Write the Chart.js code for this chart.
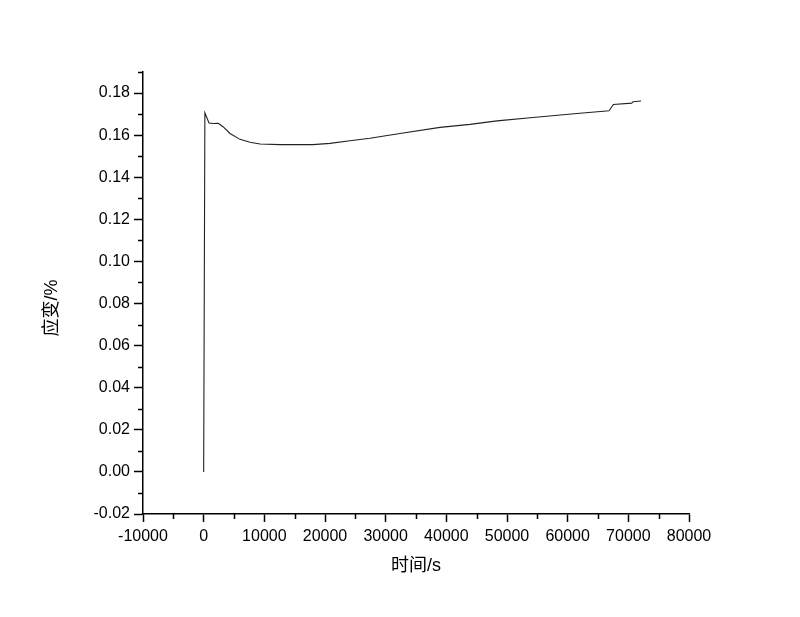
<!DOCTYPE html>
<html>
<head>
<meta charset="utf-8">
<script src="https://cdn.jsdelivr.net/npm/chart.js@4/dist/chart.umd.min.js"></script>
<style>
  html, body { margin: 0; padding: 0; background: #fff; }
  #wrap { width: 800px; height: 617px; }
</style>
</head>
<body>
<div id="wrap"><canvas id="c" width="800" height="617"></canvas></div>
<script>
// 时间 (s) / 应变 (%)
const TIME_S = [0, 200, 880, 1600, 2400, 3200, 4340, 5990, 7640, 9290, 12580, 18020, 20820,
  24120, 27410, 32360, 38960, 43900, 48350, 54290, 61540, 66820, 67530, 70560, 70770, 72090];
const STRAIN = [0.000, 0.1706, 0.1658, 0.1655, 0.1656, 0.1640, 0.1608, 0.1580, 0.1566, 0.1558,
  0.1555, 0.1555, 0.1561, 0.1573, 0.1585, 0.1608, 0.1637, 0.1651, 0.1668, 0.1684, 0.1703,
  0.1716, 0.1746, 0.1752, 0.1759, 0.1762];

const X_TICKS = [-10000, 0, 10000, 20000, 30000, 40000, 50000, 60000, 70000, 80000];
const X_MINOR = [-5000, 5000, 15000, 25000, 35000, 45000, 55000, 65000, 75000];
const Y_TICKS = [-0.02, 0, 0.02, 0.04, 0.06, 0.08, 0.10, 0.12, 0.14, 0.16, 0.18];
const Y_MINOR = [-0.01, 0.01, 0.03, 0.05, 0.07, 0.09, 0.11, 0.13, 0.15, 0.17, 0.19];

const FONT = '"Liberation Sans", Arial, "Noto Sans CJK SC", sans-serif';

// 보조 눈금 (짧은 바깥쪽 눈금)
const minorTicks = {
  id: 'minorTicks',
  afterDraw(chart) {
    const { ctx, scales: { x, y }, chartArea } = chart;
    ctx.save();
    ctx.strokeStyle = '#000';
    ctx.lineWidth = 1.5;
    ctx.beginPath();
    X_MINOR.forEach(v => {
      const px = Math.round(x.getPixelForValue(v)) + 0.5;
      ctx.moveTo(px, chartArea.bottom);
      ctx.lineTo(px, chartArea.bottom + 5);
    });
    Y_MINOR.forEach(v => {
      const py = Math.round(y.getPixelForValue(v)) + 0.5;
      ctx.moveTo(chartArea.left, py);
      ctx.lineTo(chartArea.left - 5, py);
    });
    ctx.stroke();
    ctx.restore();
  }
};

const points = TIME_S.map((t, i) => ({ x: t, y: STRAIN[i] }));

new Chart(document.getElementById('c'), {
  type: 'scatter',
  data: {
    datasets: [{
      data: points,
      showLine: true,
      borderColor: '#222',
      borderWidth: 1.1,
      pointRadius: 0,
      tension: 0,
    }]
  },
  options: {
    responsive: false,
    animation: false,
    layout: { padding: { left: 0, right: 111, top: 72, bottom: 0 } },
    plugins: { legend: { display: false }, tooltip: { enabled: false } },
    scales: {
      x: {
        type: 'linear',
        min: -10000, max: 80000,
        afterBuildTicks: s => { s.ticks = X_TICKS.map(v => ({ value: v })); },
        afterFit: s => { s.height = 103; },
        border: { display: true, color: '#000', width: 1.5 },
        grid: { drawOnChartArea: false, drawTicks: true, tickLength: 8, color: '#000', tickWidth: 1.5 },
        ticks: { color: '#000', font: { family: FONT, size: 16 }, padding: 5, maxRotation: 0,
          callback: v => String(v) },
        title: { display: true, text: '时间/s', color: '#000',
          font: { family: FONT, size: 18 }, padding: { top: 0, bottom: 40 } },
      },
      y: {
        type: 'linear',
        min: -0.02, max: 0.19,
        afterBuildTicks: s => { s.ticks = Y_TICKS.map(v => ({ value: v })); },
        afterFit: s => { s.width = 143; },
        border: { display: true, color: '#000', width: 1.5 },
        grid: { drawOnChartArea: false, drawTicks: true, tickLength: 9, color: '#000', tickWidth: 1.5 },
        ticks: { color: '#000', font: { family: FONT, size: 16 }, padding: 4,
          callback: v => v.toFixed(2) },
        // 제목을 약간 아래로 (뒤쪽 공백)
        title: { display: true, text: '应变/%      ', color: '#000',
          font: { family: FONT, size: 18 }, padding: { top: 41, bottom: 0 } },
      }
    }
  },
  plugins: [minorTicks]
});
</script>
</body>
</html>
